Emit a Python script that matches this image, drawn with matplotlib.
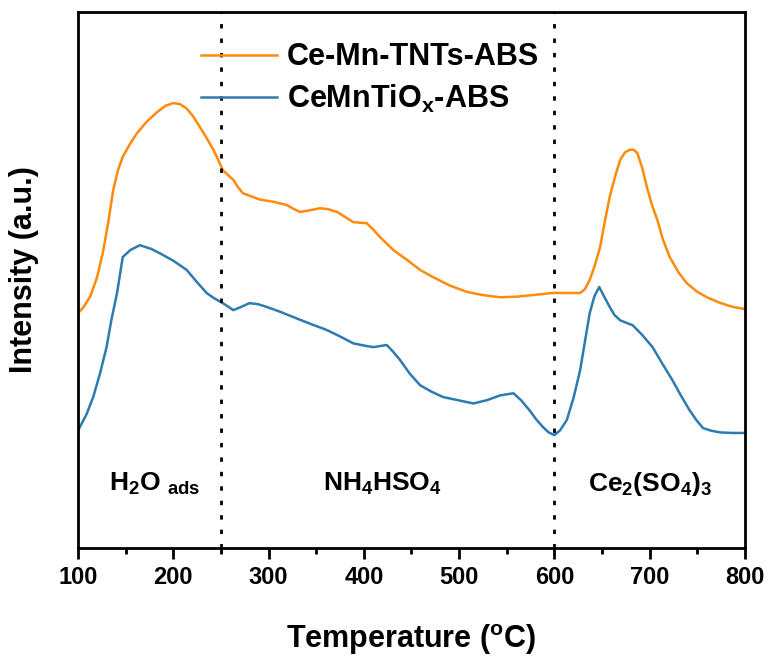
import matplotlib
matplotlib.use("Agg")
import matplotlib.pyplot as plt
from matplotlib.ticker import MultipleLocator, NullLocator

plt.rcParams['font.family'] = ['Liberation Sans', 'DejaVu Sans']
plt.rcParams['font.weight'] = 'bold'
plt.rcParams['mathtext.fontset'] = 'custom'
plt.rcParams['mathtext.rm'] = 'Liberation Sans:bold'
plt.rcParams['mathtext.bf'] = 'Liberation Sans:bold'
plt.rcParams['mathtext.it'] = 'Liberation Sans:bold'
plt.rcParams['mathtext.default'] = 'rm'

# Ce-Mn-TNTs-ABS (orange)
temp_tnts = [100, 106, 113, 120, 126, 132, 137, 142, 147, 155, 162, 172, 183, 192, 200,
             207, 214, 221, 228, 235, 242, 247, 252, 258, 263, 268, 273, 282, 291, 305,
             319, 326, 333, 343, 354, 363, 372, 380, 389, 396, 403, 410, 417, 424, 431,
             445, 459, 472, 490, 508, 525, 543, 560, 577, 598, 612, 627, 632, 637, 642,
             648, 653, 658, 664, 669, 674, 679, 683, 687, 692, 697, 702, 708, 714, 721,
             730, 739, 750, 760, 773, 787, 800]
int_tnts = [43.8, 45.0, 47.0, 50.5, 55.0, 61.0, 66.8, 70.5, 73.0, 75.5, 77.4, 79.5, 81.3, 82.5, 83.0,
            82.8, 82.0, 80.5, 78.5, 76.5, 74.3, 72.5, 70.5, 69.5, 68.7, 67.3, 66.2, 65.6, 65.0, 64.6,
            64.0, 63.3, 62.7, 63.0, 63.4, 63.2, 62.7, 61.8, 60.8, 60.7, 60.6, 59.4, 58.0, 56.8, 55.6,
            53.8, 51.9, 50.6, 49.0, 47.8, 47.2, 46.8, 46.9, 47.2, 47.6, 47.6, 47.6, 48.3, 50.0, 52.5,
            56.2, 61.0, 65.5, 69.5, 72.4, 73.8, 74.3, 74.3, 73.7, 71.0, 67.4, 64.2, 61.2, 57.5, 54.3,
            51.5, 49.4, 47.8, 46.8, 45.8, 45.0, 44.6]

# CeMnTiOx-ABS (blue)
temp_tiox = [100, 102, 109, 116, 123, 130, 135, 141, 147, 155, 165, 177, 189, 201, 214,
             224, 235, 243, 252, 258, 263, 270, 280, 289, 298, 312, 326, 343, 361, 375,
             389, 400, 410, 417, 424, 431, 438, 448, 459, 471, 483, 499, 515, 529, 543,
             550, 557, 565, 574, 581, 588, 594, 600, 606, 613, 620, 627, 632, 637, 642,
             647, 652, 658, 663, 669, 676, 682, 692, 703, 713, 724, 733, 742, 749, 756,
             765, 774, 787, 800]
int_tiox = [22.0, 22.6, 25.0, 28.2, 32.5, 37.5, 42.5, 47.6, 54.3, 55.6, 56.5, 55.8, 54.7, 53.5, 51.9,
            49.8, 47.6, 46.6, 45.7, 45.0, 44.4, 44.9, 45.7, 45.5, 45.0, 44.1, 43.1, 41.9, 40.7, 39.5,
            38.2, 37.8, 37.5, 37.7, 37.9, 36.6, 35.1, 32.6, 30.4, 29.2, 28.2, 27.6, 27.0, 27.6, 28.5,
            28.7, 28.9, 27.6, 25.7, 24.0, 22.6, 21.6, 21.1, 22.0, 23.9, 28.0, 33.2, 38.5, 43.8, 47.0,
            48.7, 47.0, 45.0, 43.5, 42.5, 42.0, 41.6, 39.8, 37.5, 34.5, 31.3, 28.4, 25.7, 23.9, 22.4,
            21.9, 21.6, 21.5, 21.5]

region_bounds = [250, 600]
region_labels = [r'H$_2$O $_{\mathregular{ads}}$', r'NH$_4$HSO$_4$', r'Ce$_2$(SO$_4$)$_3$']
region_x = [181, 419, 700]

fig = plt.figure(figsize=(7.72, 6.59), dpi=100)
ax = fig.add_axes([0.101, 0.168, 0.864, 0.814])

ax.plot(temp_tnts, int_tnts, color='#FF8A0C', lw=1.8, label='Ce-Mn-TNTs-ABS')
ax.plot(temp_tiox, int_tiox, color='#2E7BB0', lw=1.8, label=r'CeMnTiO$_x$-ABS')

for xb in region_bounds:
    ax.axvline(xb, color='black', ls=(0, (1.6, 3.6)), lw=2.0)

for lbl, xl in zip(region_labels, region_x):
    ax.text(xl, 12.0, lbl, ha='center', va='center', fontsize=19, fontweight='bold')

ax.set_xlim(100, 800)
ax.set_ylim(0, 100)
ax.xaxis.set_major_locator(MultipleLocator(100))
ax.xaxis.set_minor_locator(MultipleLocator(50))
ax.yaxis.set_major_locator(NullLocator())
ax.tick_params(axis='x', which='major', direction='out', length=8, width=2, labelsize=17, pad=5)
ax.tick_params(axis='x', which='minor', direction='out', length=4, width=2)
for lab in ax.get_xticklabels():
    lab.set_fontweight('bold')
for sp in ax.spines.values():
    sp.set_linewidth(2.0)

ax.set_xlabel('Temperature ($^{\\mathregular{o}}$C)', fontsize=22, fontweight='bold', labelpad=24)
ax.set_ylabel('Intensity (a.u.)', fontsize=22, fontweight='bold')
ax.yaxis.set_label_coords(-0.058, 0.52)

ax.legend(loc='upper left', bbox_to_anchor=(0.184, 0.943), frameon=False,
          prop={'size': 22, 'weight': 'bold'}, handlelength=2.5, handletextpad=0.33,
          labelspacing=0.35, borderpad=0, borderaxespad=0)

fig.savefig('out.png', dpi=100)
